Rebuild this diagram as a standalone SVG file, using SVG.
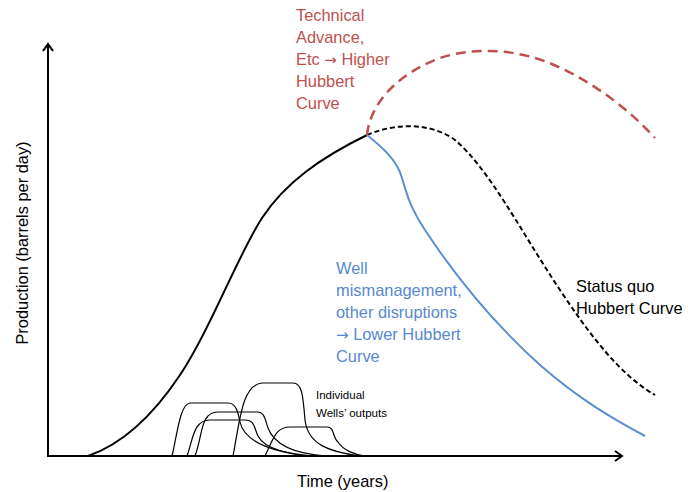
<svg xmlns="http://www.w3.org/2000/svg" width="688" height="492" viewBox="0 0 688 492">
<defs>
<marker id="arr" markerUnits="userSpaceOnUse" markerWidth="14" markerHeight="14" refX="9" refY="6" orient="auto">
<path d="M2,1 L9,6 L2,11" fill="none" stroke="#000" stroke-width="2"/>
</marker>
<style>
.ax{stroke:#000;stroke-width:2;fill:none}
.main{stroke:#000;stroke-width:2;fill:none}
.dash{stroke:#000;stroke-width:2;fill:none;stroke-dasharray:5 3}
.red{stroke:#c0504d;stroke-width:2.5;fill:none;stroke-dasharray:10 6}
.blue{stroke:#5b8fcf;stroke-width:2;fill:none}
.well{stroke:#000;stroke-width:1.2;fill:none}
text{font-family:"Liberation Sans",Arial,sans-serif;font-size:16.4px}
.arrow{font-family:"DejaVu Sans",sans-serif;font-size:15px}
.tr{fill:#c0504d}
.tb{fill:#5689d0}
.tk{fill:#000}
.ts{font-size:11.5px}
</style>
</defs>
<rect width="688" height="492" fill="#fff"/>
<g id="axes">
<line class="ax" x1="48" y1="457" x2="48" y2="44" marker-end="url(#arr)"/>
<line class="ax" x1="47" y1="456" x2="622" y2="456" marker-end="url(#arr)"/>
</g>
<g id="curves">
<path id="wells-A" class="well" d="M172,456 C178,430 180,405 190,403 L228,403 C236,403 238,412 240,422 C245,445 280,452 305,456"/>
<path id="wells-B" class="well" d="M233,456 C240,420 242,385 262,383 L293,383 C302,383 303,395 305,420 C308,445 330,452 360,456"/>
<path id="wells-C" class="well" d="M187,456 C193,440 193,420 210,420 L245,420 C255,420 254,428 258,436 C265,450 290,454 315,456"/>
<path id="wells-D" class="well" d="M195,456 C203,435 200,412 218,412 L257,412 C265,412 265,420 268,428 C275,447 300,454 325,456"/>
<path id="wells-E" class="well" d="M265,456 C273,440 275,427 290,427 L327,427 C335,427 332,437 338,442 C343,450 355,455 365,456"/>
<path id="hubbert-main" class="main" d="M88,456 C120,445 150,420 180,375 C210,330 238,255 262,218 C285,183 320,158 367,135"/>
<path id="hubbert-statusquo" class="dash" d="M367,135 C395,123 430,122 455,140 C490,170 520,230 560,290 C590,335 620,375 655,395"/>
<path id="hubbert-lower" class="blue" d="M367,135 C383,148 397,160 402,178 C407,195 410,207 425,230 C450,268 490,320 540,365 C580,400 615,420 645,436"/>
<path id="hubbert-higher" class="red" d="M367,135 C370,105 395,75 440,58 C470,48 510,48 547,62 C585,77 625,105 655,138"/>
</g>
<g id="labels">
<text class="tk" x="297" y="487">Time (years)</text>
<text class="tk" transform="translate(28,243) rotate(-90)" text-anchor="middle">Production (barrels per day)</text>
<g id="label-higher" class="tr">
<text x="296" y="21">Technical</text>
<text x="296" y="43">Advance,</text>
<text x="296" y="65">Etc <tspan class="arrow">→</tspan> Higher</text>
<text x="296" y="87">Hubbert</text>
<text x="296" y="109">Curve</text>
</g>
<g id="label-lower" class="tb">
<text x="336" y="274">Well</text>
<text x="336" y="296">mismanagement,</text>
<text x="336" y="318">other disruptions</text>
<text x="336" y="340"><tspan class="arrow">→</tspan> Lower Hubbert</text>
<text x="336" y="362">Curve</text>
</g>
<g id="label-statusquo" class="tk">
<text x="576" y="292">Status quo</text>
<text x="576" y="314">Hubbert Curve</text>
</g>
<g id="label-wells" class="tk ts">
<text class="ts" x="316" y="399">Individual</text>
<text class="ts" x="316" y="417">Wells’ outputs</text>
</g>
</g>
</svg>
